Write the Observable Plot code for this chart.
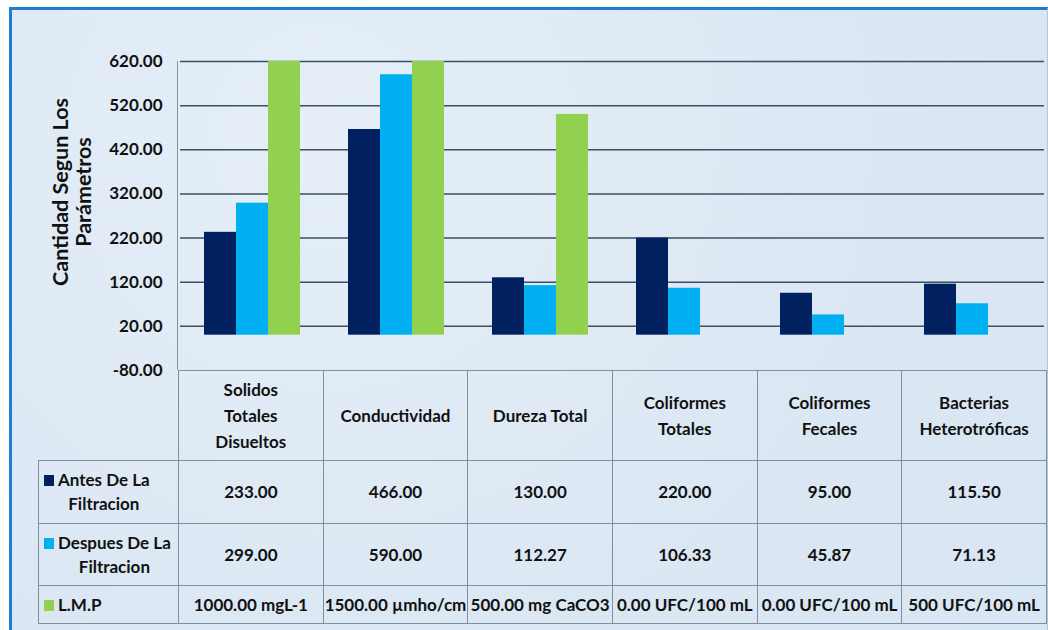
<!DOCTYPE html>
<html>
<head>
<meta charset="utf-8">
<script src="https://cdn.jsdelivr.net/npm/d3@7"></script>
<script src="https://cdn.jsdelivr.net/npm/@observablehq/plot@0.6"></script>
<style>
  html, body { margin: 0; padding: 0; background: #ffffff; }
  body { width: 1048px; height: 630px; position: relative; overflow: hidden; font-family: Lato, "Open Sans", sans-serif; }
  #frame { position: absolute; left: 9px; top: 7px; width: 1035px; height: 630px;
           border-top: 3px solid #1c7fd2; border-left: 3px solid #1c7fd2; border-right: 1px solid #b9c6d3;
           background: radial-gradient(circle at 30% 20%, #e6eff8 0%, #dbe7f3 60%, #d9e6f3 100%); }
  #chart { position: absolute; left: 0; top: 0; }
  #ytitle { position: absolute; left: -48px; top: 169px; width: 240px; height: 46px;
            transform: rotate(-90deg); transform-origin: 120px 23px; text-align: center;
            font-weight: bold; font-size: 21.5px; line-height: 23px; color: #111; }
  #vline { position: absolute; left: 177px; top: 61px; width: 0; height: 309px; border-left: 1px solid #8093a6; }
  table { position: absolute; left: 38px; top: 370px; border-collapse: collapse; table-layout: fixed;
          font-weight: bold; font-size: 17px; color: #111; }
  td { border: 1px solid #7f8fa0; text-align: center; padding: 0; }
  td.blank { border-top: none; border-left: none; }
  tr.head td { height: 89px; line-height: 26px; }
  tr.r1 td { height: 62px; line-height: 24px; }
  tr.r2 td { height: 61px; line-height: 24px; }
  tr.r3 td { height: 37px; line-height: 24px; }
  .leg { display: flex; align-items: flex-start; padding-left: 5px; }
  .key { width: 10px; height: 11px; margin-top: 7px; margin-right: 4px; flex: none; }
  .legtxt { text-align: center; flex: none; white-space: nowrap; }
</style>
</head>
<body>
<div id="frame"></div>
<div id="vline"></div>
<div id="chart"></div>
<div id="ytitle">Cantidad Segun Los<br>Parámetros</div>
<script>
// ---- data ----
const categories = ["Solidos Totales Disueltos", "Conductividad", "Dureza Total", "Coliformes Totales", "Coliformes Fecales", "Bacterias Heterotróficas"];
const categoryLines = [["Solidos", "Totales", "Disueltos"], ["Conductividad"], ["Dureza Total"], ["Coliformes", "Totales"], ["Coliformes", "Fecales"], ["Bacterias", "Heterotróficas"]];
const series = ["Antes De La Filtracion", "Despues De La Filtracion", "L.M.P"];
const seriesLines = [["Antes De La", "Filtracion"], ["Despues De La", "Filtracion"], ["L.M.P"]];
const antes = [233.00, 466.00, 130.00, 220.00, 95.00, 115.50];
const despues = [299.00, 590.00, 112.27, 106.33, 45.87, 71.13];
const lmp = [1000, 1500, 500, 0, 0, null];
const antesLabels = ["233.00", "466.00", "130.00", "220.00", "95.00", "115.50"];
const despuesLabels = ["299.00", "590.00", "112.27", "106.33", "45.87", "71.13"];
const lmpLabels = ["1000.00 mgL-1", "1500.00 µmho/cm", "500.00 mg CaCO3", "0.00 UFC/100 mL", "0.00 UFC/100 mL", "500 UFC/100 mL"];
const colors = ["#002060", "#00B0F0", "#92D050"];
const yTicks = [-80, 20, 120, 220, 320, 420, 520, 620];

// ---- build rows ----
const valueSets = [antes, despues, lmp];
const rows = [];
series.forEach((s, si) => {
  categories.forEach((c, ci) => {
    const v = valueSets[si][ci];
    if (v != null) rows.push({cat: c, series: s, value: v});
  });
});

const chart = Plot.plot({
  width: 1048,
  height: 372,
  marginLeft: 178,
  marginRight: 2,
  marginTop: 61,
  marginBottom: 2,
  style: {background: "transparent", fontFamily: "Lato, sans-serif", fontWeight: "bold", fontSize: "17px", color: "#111", overflow: "visible"},
  fx: {domain: categories, padding: 0, axis: null},
  x: {domain: series, paddingInner: 0, paddingOuter: 0.74, axis: null},
  y: {domain: [-80, 620], ticks: yTicks, tickFormat: d => d.toFixed(2), tickSize: 0, tickPadding: 18, label: null},
  color: {domain: series, range: colors},
  marks: [
    Plot.ruleY(yTicks.filter(t => t > -80), {stroke: "#3c4f63", strokeWidth: 1.5}),
    Plot.barY(rows, {fx: "cat", x: "series", y: "value", fill: "series", clip: true})
  ]
});
document.getElementById("chart").appendChild(chart);

// ---- data table (legend) ----
const colW = 868 / categories.length;
const table = document.createElement("table");
const colgroup = document.createElement("colgroup");
[140, ...categories.map(() => colW)].forEach(w => {
  const col = document.createElement("col");
  col.style.width = w + "px";
  colgroup.appendChild(col);
});
table.appendChild(colgroup);
const head = document.createElement("tr");
head.className = "head";
const blank = document.createElement("td");
blank.className = "blank";
head.appendChild(blank);
categoryLines.forEach(lines => {
  const td = document.createElement("td");
  td.innerHTML = lines.join("<br>");
  head.appendChild(td);
});
table.appendChild(head);
const labelSets = [antesLabels, despuesLabels, lmpLabels];
series.forEach((s, si) => {
  const tr = document.createElement("tr");
  tr.className = "r" + (si + 1);
  const td0 = document.createElement("td");
  const leg = document.createElement("div");
  leg.className = "leg";
  const key = document.createElement("div");
  key.className = "key";
  key.style.background = colors[si];
  const txt = document.createElement("div");
  txt.className = "legtxt";
  txt.innerHTML = seriesLines[si].join("<br>");
  leg.appendChild(key);
  leg.appendChild(txt);
  td0.appendChild(leg);
  tr.appendChild(td0);
  labelSets[si].forEach(l => {
    const td = document.createElement("td");
    td.textContent = l;
    td.style.whiteSpace = "nowrap";
    tr.appendChild(td);
  });
  table.appendChild(tr);
});
document.body.appendChild(table);
</script>
</body>
</html>
